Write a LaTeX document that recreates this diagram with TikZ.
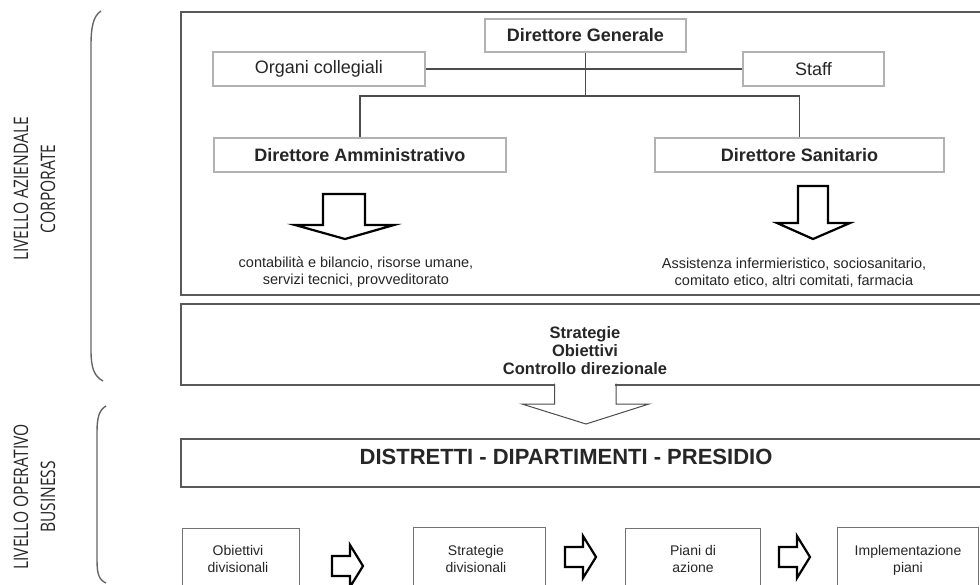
\documentclass[tikz,border=0pt]{standalone}
\usepackage{fontspec}
\setmainfont{Liberation Sans}
\newfontfamily\sidefont[FakeStretch=0.78]{Open Sans}
\begin{document}
\begin{tikzpicture}[x=1pt,y=-1pt]
\tikzset{
  frame/.style={draw=black!65, line width=1.6pt, inner sep=0pt, anchor=north west},
  orgbox/.style={draw=black!30, line width=1.8pt, fill=white, inner sep=0pt, font=\fontsize{18}{21}\selectfont, text=black!85},
  link/.style={draw=black!70, line width=1.3pt},
  thickarrow/.style={draw=black, line width=2.2pt, fill=white, line join=miter},
  thinarrow/.style={draw=black!70, line width=1pt, line join=miter},
  botbox/.style={draw=black!55, line width=1.3pt, inner sep=0pt, anchor=north west},
  bottxt/.style={align=center, font=\fontsize{14}{17}\selectfont, text=black!85},
  smalltxt/.style={align=center, font=\fontsize{14.5}{17}\selectfont, text=black!85},
  bracestyle/.style={draw=black!60, line width=1.4pt},
  side/.style={rotate=90, align=center, font=\sidefont\fontsize{20}{27}\selectfont, text=black!85},
  rblk/.pic={\draw[thickarrow] (0,-10) -- (18,-10) -- (18,-21) -- (31,0) -- (18,21) -- (18,10) -- (0,10) -- cycle;}
}
\clip (0,0) rectangle (980,585);
\fill[white] (0,0) rectangle (980,585);

% side labels and braces
\node[side] (corplab) at (34.5,189) {LIVELLO AZIENDALE\\CORPORATE};
\node[side] (buslab) at (34.5,497) {LIVELLO OPERATIVO\\BUSINESS};
\draw[bracestyle] (101,11) .. controls (93,16) and (91,28) .. (91,45) -- (91,350) .. controls (91,368) and (94,376) .. (103,381);
\draw[bracestyle] (106,406) .. controls (99,410) and (97,418) .. (97,432) -- (97,560) .. controls (97,574) and (99,580) .. (106,583);

% big frames
\node[frame, minimum width=815pt, minimum height=283pt] (corp) at (180,11) {};
\node[frame, minimum width=815pt, minimum height=81pt] (strat) at (180,303) {};
\node[frame, minimum width=815pt, minimum height=48pt] (distr) at (180,438) {};

% org chart
\node[orgbox, minimum width=201pt, minimum height=33pt, font=\fontsize{18}{21}\selectfont\bfseries] (dg) at (585.5,35.5) {Direttore Generale};
\node[orgbox, minimum width=212pt, minimum height=34pt] (org) at (319,69) {Organi collegiali};
\node[orgbox, minimum width=141pt, minimum height=34pt] (staff) at (813.5,69) {Staff};
\node[orgbox, minimum width=292pt, minimum height=34pt, font=\fontsize{18}{21}\selectfont\bfseries] (da) at (360,155) {Direttore Amministrativo};
\node[orgbox, minimum width=289pt, minimum height=34pt, font=\fontsize{18}{21}\selectfont\bfseries] (ds) at (799.5,155) {Direttore Sanitario};

\draw[link] (org.east) -- (staff.west);
\draw[link] (dg.south) -- ++(0,43) coordinate (j);
\draw[link] (da.north) |- (j) -| (ds.north);

% hollow down arrows
\draw[thickarrow] (323,194) -- (365,194) -- (365,225) -- (394,225) -- (345,239) -- (295,225) -- (323,225) -- cycle;
\draw[thickarrow] (798,186) -- (828,186) -- (828,223) -- (850,223) -- (813,239) -- (777,223) -- (798,223) -- cycle;

\node[smalltxt] (adm) at (356,272.5) {contabilità e bilancio, risorse umane,\\servizi tecnici, provveditorato};
\node[smalltxt] (san) at (794,272.5) {Assistenza infermieristico, sociosanitario,\\comitato etico, altri comitati, farmacia};

% strategie
\node[align=center, font=\fontsize{16.5}{18}\selectfont\bfseries, text=black!85] (strtxt) at (585,351) {Strategie\\Obiettivi\\Controllo direzionale};
\fill[white] (555,380) rectangle (615,388);
\draw[thinarrow] (554.5,383.5) -- (554.5,404) -- (522,404) -- (586,424) -- (649,404) -- (616,404) -- (616,383.5);

\node[font=\fontsize{22}{26}\selectfont\bfseries, text=black!85] (distrtxt) at (566,457) {DISTRETTI - DIPARTIMENTI - PRESIDIO};

% bottom boxes
\node[botbox, minimum width=117pt, minimum height=80pt] (b1) at (182,528) {};
\node[botbox, minimum width=132pt, minimum height=80pt] (b2) at (413,527) {};
\node[botbox, minimum width=135pt, minimum height=80pt] (b3) at (625,528) {};
\node[botbox, minimum width=141pt, minimum height=80pt] (b4) at (837,527) {};
\node[bottxt] (t1) at (238,558.5) {Obiettivi\\divisionali};
\node[bottxt] (t2) at (476,558.5) {Strategie\\divisionali};
\node[bottxt] (t3) at (693,558.5) {Piani di\\azione};
\node[bottxt] (t4) at (908,560.5) {Implementazione\\piani};

\pic at (332,566) {rblk};
\pic at (565,557) {rblk};
\pic at (779,557) {rblk};
\end{tikzpicture}
\end{document}
